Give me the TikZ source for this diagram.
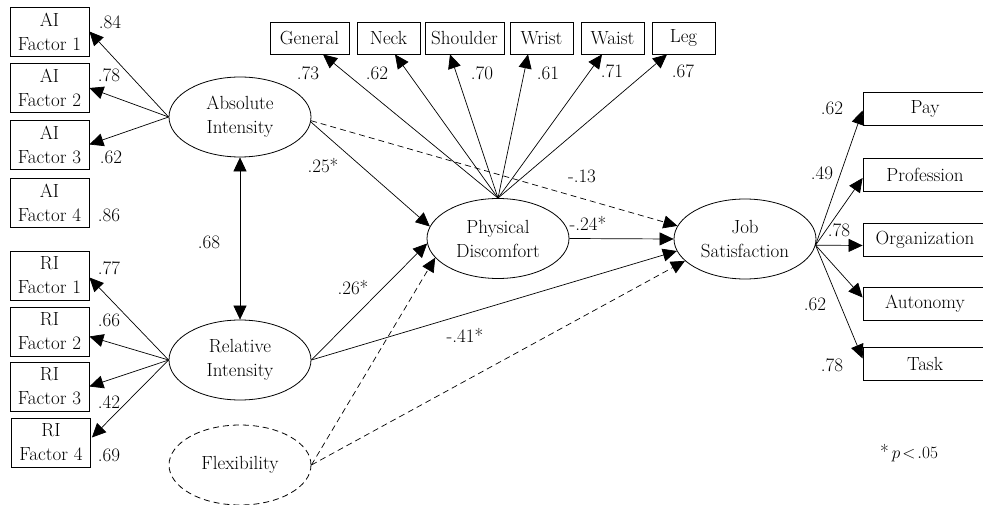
\documentclass[tikz,border=0pt]{standalone}
\usetikzlibrary{arrows.meta,shapes.geometric,calc}
\begin{document}
\begin{tikzpicture}[x=1pt,y=-1pt,
  every node/.style={font=\fontsize{19}{24}\selectfont},
  box/.style={draw,line width=0.8pt,rectangle,inner sep=0pt,align=center},
  fbox/.style={box,minimum width=79pt,minimum height=49pt},
  tbox/.style={box,minimum height=32pt},
  rbox/.style={box,minimum width=124pt,minimum height=33pt},
  lat/.style={draw,ellipse,line width=0.8pt,minimum width=142pt,minimum height=80pt,inner sep=0pt,align=center},
  lbl/.style={inner sep=0pt},
  tip/.style={-{Triangle[length=14pt,width=13pt]}},
  arr/.style={line width=0.7pt,tip},
  dsh/.style={dash pattern=on 6pt off 4pt}
]
\useasboundingbox (0,0) rectangle (983,505);
\clip (0,0) rectangle (983,505);

% left indicator boxes
\node[fbox] (af1) at (49.5,31.5) {AI\\Factor 1};
\node[fbox] (af2) at (49.5,88) {AI\\Factor 2};
\node[fbox] (af3) at (49.5,144.5) {AI\\Factor 3};
\node[fbox] (af4) at (49.5,203) {AI\\Factor 4};
\node[fbox] (rf1) at (49.5,275.5) {RI\\Factor 1};
\node[fbox] (rf2) at (49.5,331.5) {RI\\Factor 2};
\node[fbox] (rf3) at (49.5,386.5) {RI\\Factor 3};
\node[fbox] (rf4) at (51,442.5) {RI\\Factor 4};

% top boxes
\node[tbox,minimum width=79pt] (gen) at (309.5,38) {General};
\node[tbox,minimum width=63pt] (neck) at (388.5,38) {Neck};
\node[tbox,minimum width=79pt] (sho) at (464.5,38) {Shoulder};
\node[tbox,minimum width=63pt] (wri) at (541.5,38) {Wrist};
\node[tbox,minimum width=63pt] (wai) at (612.5,38) {Waist};
\node[tbox,minimum width=63pt] (leg) at (683.5,38) {Leg};

% right boxes
\node[rbox] (pay) at (925,108.5) {Pay};
\node[rbox] (prof) at (925,175) {Profession};
\node[rbox] (org) at (925,239.5) {Organization};
\node[rbox] (aut) at (925,303.5) {Autonomy};
\node[rbox] (task) at (925,363.5) {Task};

% latent variables
\node[lat] (ai) at (240,117) {Absolute\\Intensity};
\node[lat] (ri) at (240,360) {Relative\\Intensity};
\node[lat,dsh] (flex) at (240,465) {Flexibility};
\node[lat] (pd) at (498,238.5) {Physical\\Discomfort};
\node[lat] (js) at (745,239) {Job\\Satisfaction};

% measurement arrows
\draw[arr] (ai.west) -- (af1.east);
\draw[arr] (ai.west) -- (af2.east);
\draw[arr] (ai.west) -- (af3.east);
\draw[arr] (ri.west) -- ($(rf1.east)+(0,2)$);
\draw[arr] (ri.west) -- ($(rf2.east)+(0,5)$);
\draw[arr] (ri.west) -- (rf3.east);
\draw[arr] (ri.west) -- ($(rf4.east)+(1,-5)$);

\draw[arr] (pd.north) -- ($(gen.south)+(13.5,0)$);
\draw[arr] (pd.north) -- ($(neck.south)+(6.5,0)$);
\draw[arr] (pd.north) -- ($(sho.south)+(-14.5,0)$);
\draw[arr] (pd.north) -- ($(wri.south)+(-13.5,0)$);
\draw[arr] (pd.north) -- ($(wai.south)+(-10.5,0)$);
\draw[arr] (pd.north) -- ($(leg.south)+(-16.5,0)$);

\draw[arr] (js.-5) -- ($(pay.west)+(0,2)$);
\draw[arr] (js.-5) -- ($(prof.west)+(0,3)$);
\draw[arr] (js.-5) -- ($(org.west)+(0,6)$);
\draw[arr] (js.-5) -- ($(aut.west)+(0,-6)$);
\draw[arr] (js.-5) -- ($(task.west)+(0,-5)$);

% structural arrows
\draw[line width=0.7pt,{Triangle[length=14pt,width=13pt]}-{Triangle[length=14pt,width=13pt]}] (ai.south) -- (ri.north);
\draw[arr] (ai.-4) -- (pd.170);
\draw[arr,dsh] (ai.-3) -- (js.169);
\draw[arr] (pd.east) -- (js.west);
\draw[arr] (ri.east) -- (pd.184);
\draw[arr] (ri.east) -- (js.190);
\draw[arr,dsh] (flex.east) -- (pd.197);
\draw[arr,dsh] (flex.east) -- (js.200);

% labels
\node[lbl] (l1) at (110,22) {.84};
\node[lbl] (l2) at (109,75) {.78};
\node[lbl] (l3) at (111,157) {.62};
\node[lbl] (l4) at (109,215) {.86};
\node[lbl] (l5) at (109,268) {.77};
\node[lbl] (l6) at (109,320) {.66};
\node[lbl] (l7) at (109,402) {.42};
\node[lbl] (l8) at (109,455) {.69};
\node[lbl] (l9) at (209,242) {.68};

\node[lbl] (t1) at (308,73) {.73};
\node[lbl] (t2) at (377,73) {.62};
\node[lbl] (t3) at (482,73) {.70};
\node[lbl] (t4) at (548,73) {.61};
\node[lbl] (t5) at (612,71) {.71};
\node[lbl] (t6) at (683,71) {.67};

\node[lbl] (s1) at (323,166) {.25*};
\node[lbl] (s2) at (582,176) {-.13};
\node[lbl] (s3) at (588,223) {-.24*};
\node[lbl] (s4) at (353,288) {.26*};
\node[lbl] (s5) at (465,335) {-.41*};

\node[lbl] (r1) at (832,108) {.62};
\node[lbl] (r2) at (822,173) {.49};
\node[lbl] (r3) at (839,230) {.78};
\node[lbl] (r4) at (815,304) {.62};
\node[lbl] (r5) at (832,365) {.78};

\node[lbl] (note) at (909,453) {*\,$p\!<\!.05$};
\end{tikzpicture}
\end{document}
